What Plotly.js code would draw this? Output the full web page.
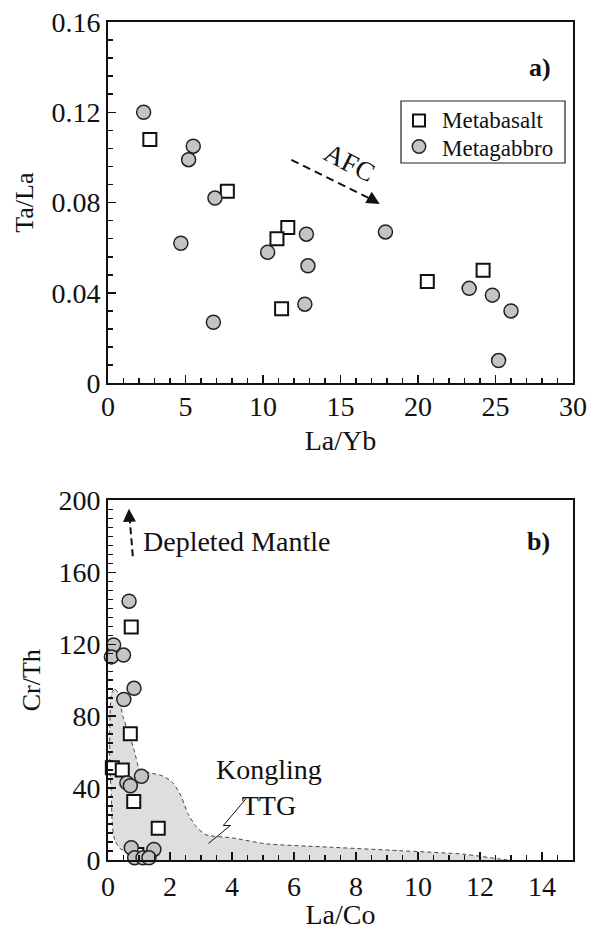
<!DOCTYPE html>
<html>
<head>
<meta charset="utf-8">
<script src="https://cdn.plot.ly/plotly-3.0.1.min.js"></script>
<style>html,body{margin:0;padding:0;background:#fff;}#chart{width:591px;height:930px;}</style>
</head>
<body>
<div id="chart"></div>
<script>
// ---- Panel a: La/Yb vs Ta/La ----
const basaltLaYb = [2.7, 7.7, 11.6, 10.9, 11.2, 20.6, 24.2];
const basaltTaLa = [0.108, 0.085, 0.069, 0.064, 0.033, 0.045, 0.050];
const gabbroLaYb = [2.3, 5.5, 5.2, 6.9, 4.7, 10.3, 12.8, 12.9, 12.7, 6.8, 17.9, 23.3, 24.8, 26.0, 25.2];
const gabbroTaLa = [0.120, 0.105, 0.099, 0.082, 0.062, 0.058, 0.066, 0.052, 0.035, 0.027, 0.067, 0.042, 0.039, 0.032, 0.010];

// AFC trend arrow (tail -> head)
const afcX = [11.83, 17.2];
const afcY = [0.0989, 0.0808];
const afcHead = [17.53, 0.0794];

// ---- Panel b: La/Co vs Cr/Th ----
const basaltLaCo = [0.75, 0.72, 0.14, 0.46, 0.83, 1.62, 0.93];
const basaltCrTh = [129.6, 70.3, 51.3, 50.1, 32.6, 17.6, 3.1];
const gabbroLaCo = [0.68, 0.18, 0.11, 0.50, 0.84, 0.51, 1.08, 0.61, 0.72, 0.75, 1.48, 0.86, 1.13, 1.32];
const gabbroCrTh = [144, 119.6, 113, 114, 95.5, 89.3, 46.6, 42.9, 41.3, 6.8, 5.9, 1.2, 1.2, 1.2];

// Kongling TTG field outline
const ttgX = [0.12, 0.22, 0.32, 0.48, 0.70, 0.86, 1.02, 1.34, 1.77, 2.09, 2.36, 2.57, 2.84, 3.16, 4.0, 5.1, 7.2, 9.4, 11.5, 12.6, 12.9, 1.0, 0.6, 0.38, 0.22, 0.14, 0.11, 0.06, 0.06, 0.12];
const ttgY = [93, 95, 93.4, 80, 69, 60, 50.5, 48.6, 46.7, 43, 35.5, 26, 18.7, 14, 12.3, 9, 7.1, 5.2, 3.2, 0.6, 0, 0, 4.6, 6.5, 11, 19, 35, 52, 77, 93];

// Leader line from field to label
const leaderX = [3.24, 3.95, 3.72, 4.46];
const leaderY = [9.2, 19.2, 19.2, 34.2];

// Depleted mantle arrow (tail -> head)
const dmX = [0.80, 0.69];
const dmY = [169, 192];
const dmHead = [0.675, 195.4];

// Legend entries
const legendNames = ['Metabasalt', 'Metagabbro'];

const FONT = "Liberation Serif, Times New Roman, serif";
const GABBRO_FILL = '#c4c4c4';
const circleMarker = {symbol: 'circle', size: 14, color: GABBRO_FILL, line: {color: '#222', width: 1.5}};
const squareMarker = {symbol: 'square', size: 13, color: '#ffffff', line: {color: '#111', width: 2}};

const traces = [
  {x: basaltLaYb, y: basaltTaLa, type: 'scatter', mode: 'markers', name: legendNames[0], marker: squareMarker, xaxis: 'x', yaxis: 'y', cliponaxis: false},
  {x: gabbroLaYb, y: gabbroTaLa, type: 'scatter', mode: 'markers', name: legendNames[1], marker: circleMarker, xaxis: 'x', yaxis: 'y', cliponaxis: false},
  {x: afcX, y: afcY, type: 'scatter', mode: 'lines', line: {color: '#111', width: 2, dash: '8px,5px'}, hoverinfo: 'skip', xaxis: 'x', yaxis: 'y'},
  {x: ttgX, y: ttgY, type: 'scatter', mode: 'lines', fill: 'toself', fillcolor: '#dedede', line: {color: '#444', width: 1, dash: '4px,3px', shape: 'spline', smoothing: 0.6}, hoverinfo: 'skip', xaxis: 'x2', yaxis: 'y2'},
  {x: leaderX, y: leaderY, type: 'scatter', mode: 'lines', line: {color: '#111', width: 1}, hoverinfo: 'skip', xaxis: 'x2', yaxis: 'y2'},
  {x: dmX, y: dmY, type: 'scatter', mode: 'lines', line: {color: '#111', width: 2, dash: '7px,4px'}, hoverinfo: 'skip', xaxis: 'x2', yaxis: 'y2'},
  {x: basaltLaCo, y: basaltCrTh, type: 'scatter', mode: 'markers', name: legendNames[0], marker: squareMarker, xaxis: 'x2', yaxis: 'y2', cliponaxis: false},
  {x: gabbroLaCo, y: gabbroCrTh, type: 'scatter', mode: 'markers', name: legendNames[1], marker: circleMarker, xaxis: 'x2', yaxis: 'y2', cliponaxis: false}
];

function axisBase(extra) {
  return Object.assign({
    showgrid: false, zeroline: false, showline: true, linecolor: '#111', linewidth: 2, mirror: true,
    ticks: 'inside', ticklen: 8, tickwidth: 1.5, tickcolor: '#111',
    tickfont: {family: FONT, size: 28, color: '#111'},
    fixedrange: true
  }, extra);
}

// Legend box for panel a, placed in paper coordinates (plot area spans x 108..573, y 22..860 px)
const W = 465, H = 838, L = 108, B = 860;
const px = v => (v - L) / W;
const py = v => (B - v) / H;

const layout = {
  width: 591, height: 930,
  margin: {l: 108, r: 18, t: 22, b: 70},
  paper_bgcolor: '#fff', plot_bgcolor: '#fff',
  font: {family: FONT, color: '#111'},
  showlegend: false,
  xaxis: axisBase({domain: [0, 1], range: [0, 30], dtick: 5, tick0: 0, anchor: 'y',
    minor: {dtick: 1, ticklen: 5, tickwidth: 1.5, tickcolor: '#111', ticks: 'inside', showgrid: false},
    ticklabelstandoff: -3,
    title: {text: 'La/Yb', font: {family: FONT, size: 28, color: '#111'}, standoff: 10}}),
  yaxis: axisBase({domain: [0.569, 1], range: [0, 0.16], dtick: 0.04, tick0: 0, anchor: 'x',
    minor: {dtick: 0.008, ticklen: 5, tickwidth: 1.5, tickcolor: '#111', ticks: 'inside', showgrid: false},
    title: {text: 'Ta/La', font: {family: FONT, size: 26, color: '#111'}, standoff: 10}}),
  xaxis2: axisBase({domain: [0, 1], range: [0, 15], dtick: 2, tick0: 0, anchor: 'y2',
    minor: {dtick: 0.5, ticklen: 5, tickwidth: 1.5, tickcolor: '#111', ticks: 'inside', showgrid: false},
    title: {text: 'La/Co', font: {family: FONT, size: 28, color: '#111'}, standoff: 12}}),
  yaxis2: axisBase({domain: [0, 0.429], range: [0, 200], dtick: 40, tick0: 0, anchor: 'x2',
    minor: {dtick: 5, ticklen: 5, tickwidth: 1.5, tickcolor: '#111', ticks: 'inside', showgrid: false},
    title: {text: 'Cr/Th', font: {family: FONT, size: 26, color: '#111'}, standoff: 10}}),
  shapes: [
    {type: 'rect', xref: 'paper', yref: 'paper', x0: px(401), x1: px(565), y0: py(163), y1: py(101), line: {color: '#222', width: 1.2}, fillcolor: '#fff', layer: 'above'},
    {type: 'rect', xref: 'paper', yref: 'paper', x0: px(413), x1: px(425), y0: py(126.5), y1: py(114.5), line: {color: '#111', width: 2}, fillcolor: '#fff', layer: 'above'},
    {type: 'circle', xref: 'paper', yref: 'paper', x0: px(412.3), x1: px(425.7), y0: py(153.2), y1: py(139.8), line: {color: '#222', width: 1.5}, fillcolor: GABBRO_FILL, layer: 'above'}
  ],
  annotations: [
    {xref: 'paper', yref: 'paper', x: px(440), y: py(121), xanchor: 'left', yanchor: 'middle', text: legendNames[0], showarrow: false, font: {family: FONT, size: 23, color: '#111'}},
    {xref: 'paper', yref: 'paper', x: px(440), y: py(148), xanchor: 'left', yanchor: 'middle', text: legendNames[1], showarrow: false, font: {family: FONT, size: 23, color: '#111'}},
    {xref: 'x', yref: 'y', x: 27.85, y: 0.1400, text: '<b>a)</b>', showarrow: false, font: {family: FONT, size: 26, color: '#111'}},
    {xref: 'x', yref: 'y', x: 15.6, y: 0.0975, text: 'AFC', showarrow: false, textangle: 27, font: {family: FONT, size: 27, color: '#111'}},
    {xref: 'x', yref: 'y', x: afcHead[0], y: afcHead[1], axref: 'x', ayref: 'y', ax: afcX[1] - 0.2, ay: afcY[1] + 0.0007, text: '', showarrow: true, arrowhead: 2, arrowsize: 1.3, arrowwidth: 2, arrowcolor: '#111'},
    {xref: 'x2', yref: 'y2', x: dmHead[0], y: dmHead[1], axref: 'x2', ayref: 'y2', ax: dmX[1], ay: dmY[1] - 3, text: '', showarrow: true, arrowhead: 2, arrowsize: 1.3, arrowwidth: 2, arrowcolor: '#111'},
    {xref: 'x2', yref: 'y2', x: 1.08, y: 177, xanchor: 'left', text: 'Depleted Mantle', showarrow: false, font: {family: FONT, size: 28, color: '#111'}},
    {xref: 'x2', yref: 'y2', x: 13.88, y: 177, text: '<b>b)</b>', showarrow: false, font: {family: FONT, size: 26, color: '#111'}},
    {xref: 'x2', yref: 'y2', x: 5.18, y: 40.6, text: 'Kongling<br>TTG', showarrow: false, font: {family: FONT, size: 28, color: '#111'}}
  ]
};

Plotly.newPlot('chart', traces, layout, {staticPlot: true, displayModeBar: false});
</script>
</body>
</html>
